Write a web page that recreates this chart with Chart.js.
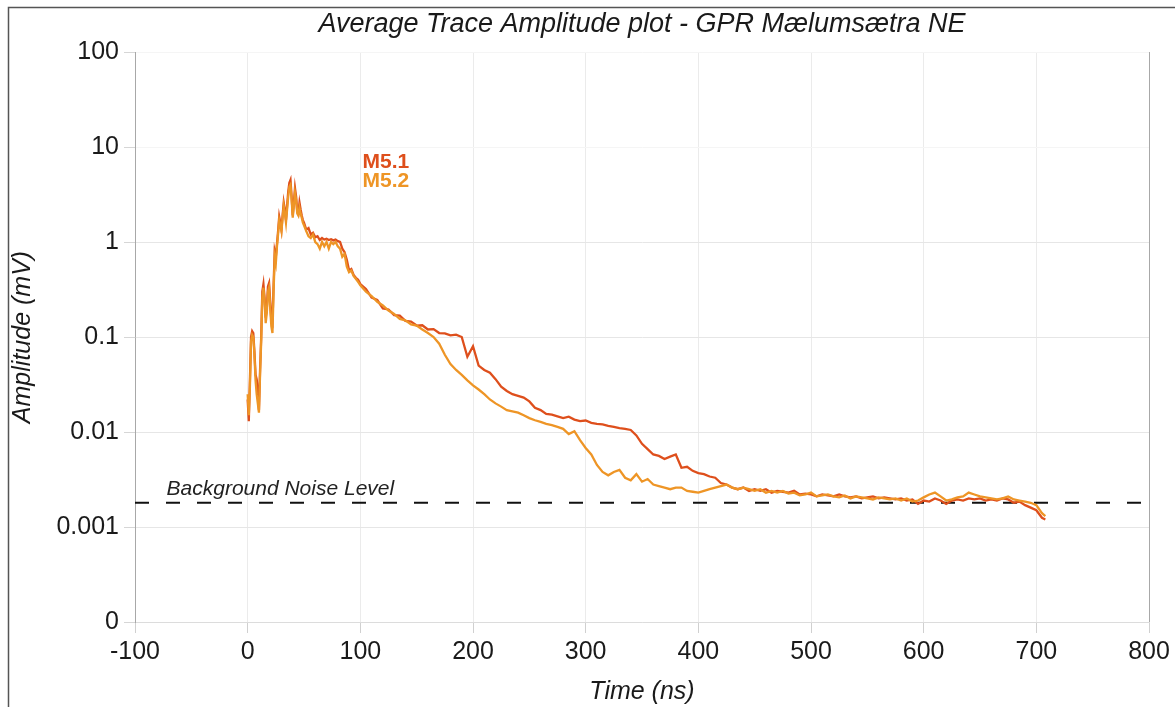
<!DOCTYPE html>
<html>
<head>
<meta charset="utf-8">
<style>
  html, body { margin: 0; padding: 0; background: #fff; }
  #wrap { width: 1175px; height: 707px; }
</style>
<script src="https://cdn.jsdelivr.net/npm/chart.js@4.4.1/dist/chart.umd.min.js"></script>
</head>
<body>
<div id="wrap"><canvas id="ampChart" width="1175" height="707"></canvas></div>
<script>
// --- Data ---
const timeNs = [
  0, 1, 2, 3, 4, 5, 6, 7, 8, 9,
  10, 11, 12, 13, 14, 15, 16, 17, 18, 19,
  20, 21, 22, 23, 24, 25, 26, 27, 28, 29,
  30, 31, 32, 33, 34, 35, 36, 37, 38, 39,
  40, 41, 42, 43, 44, 45, 46, 47, 48, 49,
  50,
  52, 54, 56, 58, 60, 62, 64, 66, 68, 70,
  72, 74, 76, 78, 80, 82, 84, 86, 88, 90,
  92, 94, 96, 98, 100,
  105, 110, 115, 120, 125, 130, 135, 140, 145, 150,
  155, 160, 165, 170, 175, 180, 185, 190, 195, 200,
  205, 210, 215, 220, 225, 230, 235, 240, 245, 250,
  255, 260, 265, 270, 275, 280, 285, 290, 295, 300,
  305, 310, 315, 320, 325, 330, 335, 340, 345, 350,
  355, 360, 365, 370, 375, 380, 385, 390, 395, 400,
  405, 410, 415, 420, 425, 430, 435, 440, 445, 450,
  455, 460, 465, 470, 475, 480, 485, 490, 495, 500,
  505, 510, 515, 520, 525, 530, 535, 540, 545, 550,
  555, 560, 565, 570, 575, 580, 585, 590, 595, 600,
  605, 610, 615, 620, 625, 630, 635, 640, 645, 650,
  655, 660, 665, 670, 675, 680, 685, 690, 695, 700,
  705, 708
];

const m51Amp = [
  0.022, 0.013, 0.035, 0.10, 0.115, 0.11, 0.07, 0.04, 0.036, 0.028,
  0.017, 0.045, 0.10, 0.30, 0.36, 0.26, 0.16, 0.20, 0.34, 0.37,
  0.24, 0.15, 0.14, 0.35, 0.80, 0.70, 0.95, 1.3, 1.85, 1.6,
  1.35, 1.9, 2.6, 2.2, 1.7, 2.4, 3.4, 4.2, 4.5, 3.0,
  1.9, 2.6, 3.7, 3.0, 2.1, 2.0, 2.6, 2.2, 1.9, 1.7,
  1.6,
  1.35, 1.4, 1.2, 1.25, 1.12, 1.15, 1.05, 1.1, 1.06, 1.08,
  1.05, 1.07, 1.04, 1.06, 1.02, 1.0, 0.85, 0.78, 0.65, 0.5,
  0.52, 0.45, 0.42, 0.4, 0.36,
  0.32, 0.26, 0.245, 0.2, 0.195, 0.17, 0.168, 0.148, 0.145, 0.132,
  0.133, 0.12, 0.121, 0.11, 0.109, 0.104, 0.106, 0.1, 0.062, 0.08,
  0.05, 0.045, 0.042, 0.036, 0.03, 0.027, 0.025, 0.024, 0.023, 0.021,
  0.018, 0.017, 0.0155, 0.0152, 0.0146, 0.014, 0.0145, 0.0135, 0.013, 0.0132,
  0.0125, 0.0122, 0.012, 0.0116, 0.0113, 0.011, 0.0108, 0.0105, 0.0092, 0.0075,
  0.0066, 0.0058, 0.0056, 0.0052, 0.0055, 0.0058, 0.0042, 0.0043, 0.0039, 0.0037,
  0.0036, 0.0034, 0.0033, 0.0029, 0.0028, 0.0026, 0.0025, 0.0026, 0.0024, 0.0025,
  0.0024, 0.0025, 0.0023, 0.0024, 0.00235, 0.0023, 0.0024, 0.0022, 0.00225, 0.0022,
  0.0021, 0.0022, 0.00215, 0.0021, 0.0022, 0.0021, 0.00205, 0.0021, 0.002, 0.00205,
  0.0021, 0.002, 0.00205, 0.002, 0.00195, 0.002, 0.0019, 0.00195, 0.00175, 0.0019,
  0.00185, 0.002, 0.0019, 0.00175, 0.0019, 0.00195, 0.0019, 0.002, 0.00195, 0.002,
  0.0019, 0.00195, 0.0019, 0.002, 0.00195, 0.0018, 0.00185, 0.0017, 0.0016, 0.0015,
  0.00125, 0.0012
];

const m52Amp = [
  0.025, 0.015, 0.03, 0.09, 0.105, 0.10, 0.065, 0.035, 0.025, 0.02,
  0.016, 0.04, 0.09, 0.26, 0.33, 0.24, 0.14, 0.18, 0.30, 0.33,
  0.2, 0.13, 0.11, 0.3, 0.7, 0.6, 0.9, 1.2, 1.7, 1.5,
  1.3, 1.8, 2.4, 2.0, 1.6, 2.2, 3.0, 3.8, 4.0, 2.8,
  1.8, 2.4, 3.3, 2.8, 2.0, 1.9, 2.3, 2.0, 1.8, 1.6,
  1.5,
  1.3, 1.15, 1.1, 1.2, 1.0, 0.95, 0.85, 1.0, 0.9, 1.0,
  0.85, 1.0, 0.95, 1.0, 0.9, 0.85, 0.7, 0.75, 0.55, 0.48,
  0.5, 0.44, 0.41, 0.38, 0.35,
  0.3, 0.27, 0.235, 0.215, 0.19, 0.175, 0.155, 0.15, 0.136, 0.132,
  0.12, 0.11, 0.1, 0.085, 0.065, 0.052, 0.045, 0.04, 0.035, 0.031,
  0.028, 0.025, 0.022, 0.02, 0.0185, 0.017, 0.0165, 0.016, 0.015, 0.014,
  0.0133, 0.0128, 0.0122, 0.0118, 0.0113, 0.0108, 0.0095, 0.0102, 0.0082, 0.0068,
  0.0058, 0.0045, 0.0038, 0.0035, 0.0038, 0.004, 0.0033, 0.0031, 0.0036, 0.003,
  0.0032, 0.0028, 0.0027, 0.0026, 0.0025, 0.0026, 0.0026, 0.0024, 0.00235, 0.0023,
  0.0024, 0.0025, 0.0026, 0.0027, 0.0028, 0.0026, 0.0025, 0.0026, 0.0025, 0.0024,
  0.0025, 0.0023, 0.0024, 0.0023, 0.0024, 0.00225, 0.0023, 0.00215, 0.0022, 0.0023,
  0.0021, 0.00215, 0.0022, 0.0021, 0.00205, 0.00215, 0.002, 0.0021, 0.00205, 0.002,
  0.00195, 0.00205, 0.002, 0.00195, 0.002, 0.0019, 0.002, 0.00185, 0.0019, 0.00205,
  0.0022, 0.0023, 0.0021, 0.0019, 0.00195, 0.00205, 0.0021, 0.0023, 0.0022, 0.0021,
  0.00205, 0.002, 0.00195, 0.002, 0.0021, 0.00195, 0.0019, 0.00185, 0.0018, 0.0017,
  0.0014, 0.0013
];

const noiseLevel = 0.0018;
const noiseRange = [-100, 800];

const yTickValues = [0.0001, 0.001, 0.01, 0.1, 1, 10, 100];
const yTickLabels = ['0', '0.001', '0.01', '0.1', '1', '10', '100'];

const seriesNames = ['M5.1', 'M5.2'];
const seriesColors = ['#de4f1c', '#ee9526'];

const FONT = '"Liberation Sans", Arial, sans-serif';

// --- Helpers ---
const toPoints = (xs, ys) => xs.map((x, i) => ({ x: x, y: ys[i] }));

// frame, noise label and series labels
const decorPlugin = {
    id: 'decor',
    beforeDraw(chart) {
        const c = chart.ctx;
        c.save();
        c.strokeStyle = '#555';
        c.lineWidth = 1.5;
        c.beginPath();
        c.moveTo(8.5, 720);
        c.lineTo(8.5, 7.5);
        c.lineTo(1180, 7.5);
        c.stroke();
        c.restore();
    },
    afterDatasetsDraw(chart) {
        const c = chart.ctx;
        const x = chart.scales.x, y = chart.scales.y;
        c.save();
        c.textBaseline = 'middle';
        c.textAlign = 'left';
        c.fillStyle = '#222';
        c.font = 'italic 21px ' + FONT;
        c.fillText('Background Noise Level', x.getPixelForValue(-72), y.getPixelForValue(noiseLevel) - 14);

        c.font = 'bold 21px ' + FONT;
        const lx = x.getPixelForValue(102);
        c.fillStyle = seriesColors[0];
        c.fillText(seriesNames[0], lx, y.getPixelForValue(6.9));
        c.fillStyle = seriesColors[1];
        c.fillText(seriesNames[1], lx, y.getPixelForValue(4.4));
        c.restore();
    }
};

const ctx = document.getElementById('ampChart').getContext('2d');
const ampChart = new Chart(ctx, {
    type: 'line',
    data: {
        datasets: [
            {
                label: seriesNames[1],
                data: toPoints(timeNs, m52Amp),
                borderColor: seriesColors[1],
                borderWidth: 2.3,
                pointRadius: 0,
                tension: 0
            },
            {
                label: seriesNames[0],
                data: toPoints(timeNs, m51Amp),
                borderColor: seriesColors[0],
                borderWidth: 2.3,
                pointRadius: 0,
                tension: 0
            },
            {
                label: 'Background Noise Level',
                data: noiseRange.map(t => ({ x: t, y: noiseLevel })),
                borderColor: '#111',
                borderWidth: 2,
                borderDash: [14, 17],
                pointRadius: 0
            }
        ]
    },
    options: {
        responsive: false,
        animation: false,
        layout: { padding: { right: 26, top: 0, bottom: 0, left: 0 } },
        plugins: {
            legend: { display: false },
            tooltip: { enabled: false },
            title: {
                display: true,
                fullSize: false,
                text: 'Average Trace Amplitude plot - GPR Mælumsætra NE',
                color: '#1a1a1a',
                font: { family: FONT, size: 27, style: 'italic', weight: 'normal' },
                padding: { top: 8, bottom: 11.6 }
            }
        },
        scales: {
            x: {
                type: 'linear',
                min: -100,
                max: 800,
                afterFit: s => { s.height = 85; },
                ticks: {
                    stepSize: 100,
                    color: '#1a1a1a',
                    padding: 4,
                    maxRotation: 0,
                    font: { family: FONT, size: 25 }
                },
                grid: {
                    color: c => c.tick && c.tick.value === 800 ? '#a8a8a8' : '#ebebeb',
                    tickColor: '#d0d0d0',
                    tickLength: 11
                },
                border: { color: '#dcdcdc' },
                title: {
                    display: true,
                    text: 'Time (ns)',
                    color: '#1a1a1a',
                    font: { family: FONT, size: 25, style: 'italic' },
                    padding: { top: 0, bottom: 0 }
                }
            },
            y: {
                type: 'logarithmic',
                min: 0.0001,
                max: 100,
                afterFit: s => { s.width = 135; },
                afterBuildTicks: s => { s.ticks = yTickValues.map(v => ({ value: v })); },
                ticks: {
                    color: '#1a1a1a',
                    padding: 5,
                    font: { family: FONT, size: 25 },
                    callback: (v, i) => yTickLabels[i]
                },
                grid: {
                    color: c => c.tick && c.tick.value >= 10 ? '#f5f5f5' : '#e6e6e6',
                    tickColor: '#d6d6d6',
                    tickLength: 11
                },
                border: { color: '#a8a8a8' },
                title: {
                    display: true,
                    text: 'Amplitude (mV)',
                    color: '#1a1a1a',
                    font: { family: FONT, size: 25, style: 'italic' },
                    padding: { top: 8, bottom: 0 }
                }
            }
        }
    },
    plugins: [decorPlugin]
});
</script>
</body>
</html>
